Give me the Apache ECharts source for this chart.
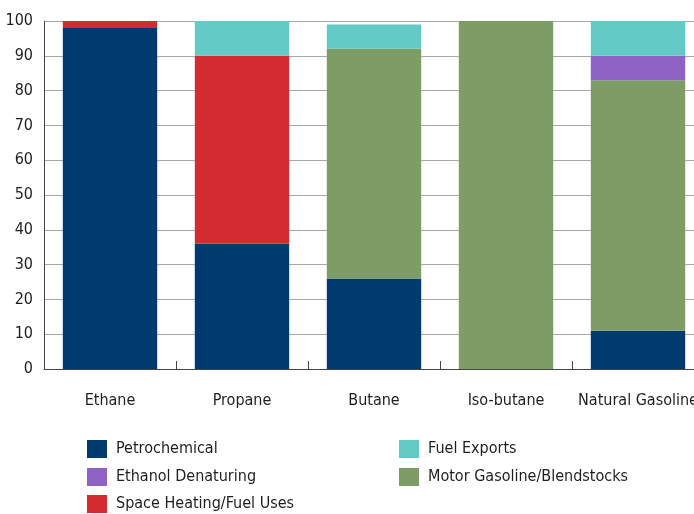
<!DOCTYPE html>
<html><head><meta charset="utf-8">
<script src="https://cdn.jsdelivr.net/npm/echarts@6/dist/echarts.min.js"></script>
<style>html,body{margin:0;padding:0;background:#fff;overflow:hidden}#c{width:720px;height:514px}</style>
</head><body><div id="c"></div>
<script>
const categories = ['Ethane', 'Propane', 'Butane', 'Iso-butane', 'Natural Gasoline'];
const petrochemical = [98, 36, 26, 0, 11];
const motorGasoline = [0, 0, 66, 100, 72];
const spaceHeating = [2, 54, 0, 0, 0];
const ethanolDenaturing = [0, 0, 0, 0, 7];
const fuelExports = [0, 10, 7, 0, 10];
const yTicks = [0, 10, 20, 30, 40, 50, 60, 70, 80, 90, 100];

const FONT = '"Liberation Sans Narrow", "DejaVu Sans Condensed", "Roboto Condensed", sans-serif';
const colors = {
  'Petrochemical': '#003a6e',
  'Motor Gasoline/Blendstocks': '#7e9c66',
  'Space Heating/Fuel Uses': '#d42b31',
  'Ethanol Denaturing': '#8f63c5',
  'Fuel Exports': '#64cac6'
};
function mk(name, data) {
  return { name, type: 'bar', stack: 'total', data, barCategoryGap: '28.5%',
    itemStyle: { color: colors[name] }, emphasis: { disabled: true } };
}
function lg(name, left, top) {
  return { left, top, padding: 0, itemWidth: 20, itemHeight: 18, icon: 'rect', data: [name],
    selectedMode: false,
    textStyle: { fontSize: 16, color: '#1e1e1e', fontFamily: FONT, padding: [0, 0, 0, 4] } };
}
const chart = echarts.init(document.getElementById('c'));
chart.setOption({
  animation: false,
  textStyle: { fontFamily: FONT },
  grid: { left: 44, right: 16, top: 21, bottom: 145, containLabel: false },
  xAxis: {
    type: 'category', data: categories,
    axisLine: { lineStyle: { color: '#444', width: 1 } },
    axisTick: { show: true, inside: true, length: 8, lineStyle: { color: '#444' } },
    axisLabel: { color: '#1e1e1e', fontSize: 16, fontFamily: FONT, margin: 24, interval: 0 }
  },
  yAxis: {
    type: 'value', min: 0, max: 100, interval: 10,
    axisLine: { show: true, lineStyle: { color: '#444' } },
    axisTick: { show: false },
    axisLabel: { color: '#1e1e1e', fontSize: 16, fontFamily: FONT, margin: 11,
      formatter: v => yTicks.includes(v) ? String(v) : '' },
    splitLine: { lineStyle: { color: '#a8a8a8', width: 1 } }
  },
  legend: [
    lg('Petrochemical', 87, 440),
    lg('Ethanol Denaturing', 87, 468),
    lg('Space Heating/Fuel Uses', 87, 495),
    lg('Fuel Exports', 399, 440),
    lg('Motor Gasoline/Blendstocks', 399, 468)
  ],
  series: [
    mk('Petrochemical', petrochemical),
    mk('Motor Gasoline/Blendstocks', motorGasoline),
    mk('Space Heating/Fuel Uses', spaceHeating),
    mk('Ethanol Denaturing', ethanolDenaturing),
    mk('Fuel Exports', fuelExports)
  ]
});
</script></body></html>
